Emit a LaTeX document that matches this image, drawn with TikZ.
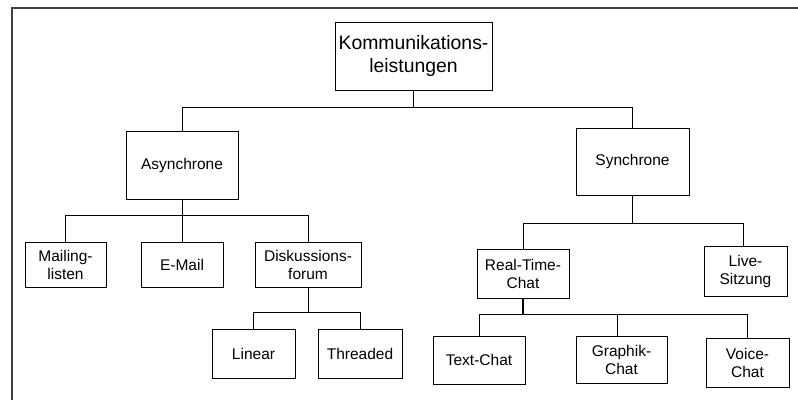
\documentclass[tikz,border=0pt]{standalone}
\usepackage{fontspec}
\setmainfont{Liberation Sans}
\begin{document}
\begin{tikzpicture}[x=1pt,y=-1pt,
  box/.style={draw, line width=0.8pt, inner sep=0pt, align=center,
    font=\fontsize{15.5}{18}\selectfont},
  conn/.style={line width=0.8pt},
  frameline/.style={line width=1.2pt, black!75}]
\useasboundingbox (0,0) rectangle (798,400);
\draw[frameline] (12,400) -- (12,8) -- (798,8);
% nodes
\node[box, minimum width=157pt, minimum height=68pt,
  font=\fontsize{19.4}{23}\selectfont] (top) at (413.5,56) {Kommunikations-\\leistungen};
\node[box, minimum width=112pt, minimum height=68pt] (async) at (182,165) {Asynchrone};
\node[box, minimum width=113pt, minimum height=67pt] (sync) at (632.5,161.5) {Synchrone};
\node[box, minimum width=81pt, minimum height=45pt] (mail) at (65.5,264.5) {Mailing-\\listen};
\node[box, minimum width=82pt, minimum height=45pt] (email) at (182,264.5) {E-Mail};
\node[box, minimum width=106pt, minimum height=45pt] (disk) at (308,264.5) {Diskussions-\\forum};
\node[box, minimum width=83pt, minimum height=49pt] (linear) at (253.5,353.5) {Linear};
\node[box, minimum width=84pt, minimum height=49pt] (threaded) at (360,353.5) {Threaded};
\node[box, minimum width=92pt, minimum height=49pt] (rtc) at (523,273.5) {Real-Time-\\Chat};
\node[box, minimum width=83pt, minimum height=50pt] (live) at (745.5,271) {Live-\\Sitzung};
\node[box, minimum width=92pt, minimum height=48pt] (text) at (479,360) {Text-Chat};
\node[box, minimum width=91pt, minimum height=47pt] (graph) at (621.5,359.5) {Graphik-\\Chat};
\node[box, minimum width=83pt, minimum height=49pt] (voice) at (747.5,362.5) {Voice-\\Chat};
% bus coordinates
\coordinate (b1) at (0,107);
\coordinate (b2) at (0,215);
\coordinate (b3) at (0,312);
\coordinate (b4) at (0,223);
\coordinate (b5) at (0,314);
% connectors
\draw[conn] (top.south) -- (top.south |- b1);
\draw[conn] (async.north) -- (async.north |- b1) -- (sync.north |- b1) -- (sync.north);
\draw[conn] (async.south) -- (email.north);
\draw[conn] (mail.north) -- (mail.north |- b2) -- (disk.north |- b2) -- (disk.north);
\draw[conn] (disk.south) -- (disk.south |- b3);
\draw[conn] (linear.north) -- (linear.north |- b3) -- (threaded.north |- b3) -- (threaded.north);
\draw[conn, line width=1.1pt] (sync.south) -- (sync.south |- b4);
\draw[conn] (rtc.north) -- (rtc.north |- b4) -- ([xshift=-2.5pt]live.north |- b4) -- ([xshift=-2.5pt]live.north);
\draw[conn, line width=1.1pt] (rtc.south) -- (rtc.south |- b5);
\draw[conn] (text.north) -- (text.north |- b5) -- (voice.north |- b5) -- (voice.north);
\draw[conn] ([xshift=-4.5pt]graph.north) -- ([xshift=-4.5pt]graph.north |- b5);
\end{tikzpicture}
\end{document}
